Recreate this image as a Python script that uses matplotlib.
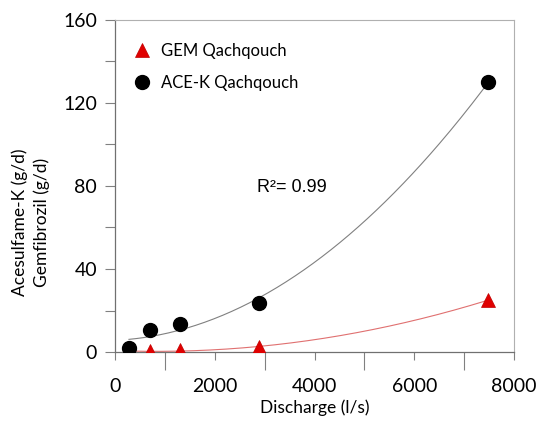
import numpy as np
import matplotlib.pyplot as plt

plt.rcParams['font.family'] = ['Lato', 'DejaVu Sans']

# discharge (l/s) and loads (g/d) at Qachqouch
discharge = [280, 700, 1300, 2890, 7480]
ace_k = [2.0, 10.6, 13.6, 23.8, 130.0]
gem = [0.3, 0.3, 0.8, 2.5, 25.0]

# second order trendlines
xs = np.linspace(min(discharge), max(discharge), 200)
ace_fit = np.polyval(np.polyfit(discharge, ace_k, 2), xs)
gem_fit = np.polyval(np.polyfit(discharge, gem, 2), xs)

fig = plt.figure(figsize=(5.36, 4.23), dpi=100)
ax = fig.add_axes([115 / 536, 1 - 352 / 423, 399 / 536, 332 / 423])

ax.plot(xs, ace_fit, color='#808080', lw=0.8, zorder=2)
ax.plot(xs, gem_fit, color='#e07070', lw=0.8, zorder=2)
ax.plot(discharge, gem, ls='none', marker='^', ms=9.5, color='#e00000',
        mec='#c00000', mew=0.5, label='GEM Qachqouch', zorder=3)
ax.plot(discharge, ace_k, ls='none', marker='o', ms=10, color='black',
        label='ACE-K Qachqouch', zorder=3)

ax.set_xlim(0, 8000)
ax.set_ylim(0, 160)
ax.set_xticks([0, 2000, 4000, 6000, 8000])
ax.set_xticks([1000, 3000, 5000, 7000], minor=True)
ax.set_yticks([0, 40, 80, 120, 160])
ax.set_yticks([20, 60, 100, 140], minor=True)
ax.tick_params(axis='x', which='major', direction='out', length=6, width=0.8,
               color='#808080', labelsize=14, pad=13)
ax.tick_params(axis='x', which='minor', direction='out', length=13, width=0.8,
               color='#808080')
ax.tick_params(axis='y', which='both', direction='out', length=7, width=0.8,
               color='#808080', labelsize=14, pad=6)

for side in ['left', 'bottom']:
    ax.spines[side].set_color('#707070')
    ax.spines[side].set_linewidth(0.9)
for side in ['top', 'right']:
    ax.spines[side].set_color('#b0b0b0')
    ax.spines[side].set_linewidth(0.8)

ax.set_xlabel('Discharge (l/s)', fontsize=12.5, labelpad=3)
fig.text(20 / 536, 1 - 222 / 423, 'Acesulfame-K (g/d)', rotation=90,
         ha='center', va='center', fontsize=12.5)
fig.text(42 / 536, 1 - 222 / 423, 'Gemfibrozil (g/d)', rotation=90,
         ha='center', va='center', fontsize=12.5)

ax.text(0.357, 0.495, 'R²= 0.99', transform=ax.transAxes, fontsize=13,
        family='Liberation Sans', ha='left', va='center')

ax.legend(loc='upper left', bbox_to_anchor=(-0.02, 0.985), frameon=False,
          fontsize=12, handletextpad=0.15, labelspacing=0.95, borderpad=0.6)

fig.savefig('out.png', dpi=100)
